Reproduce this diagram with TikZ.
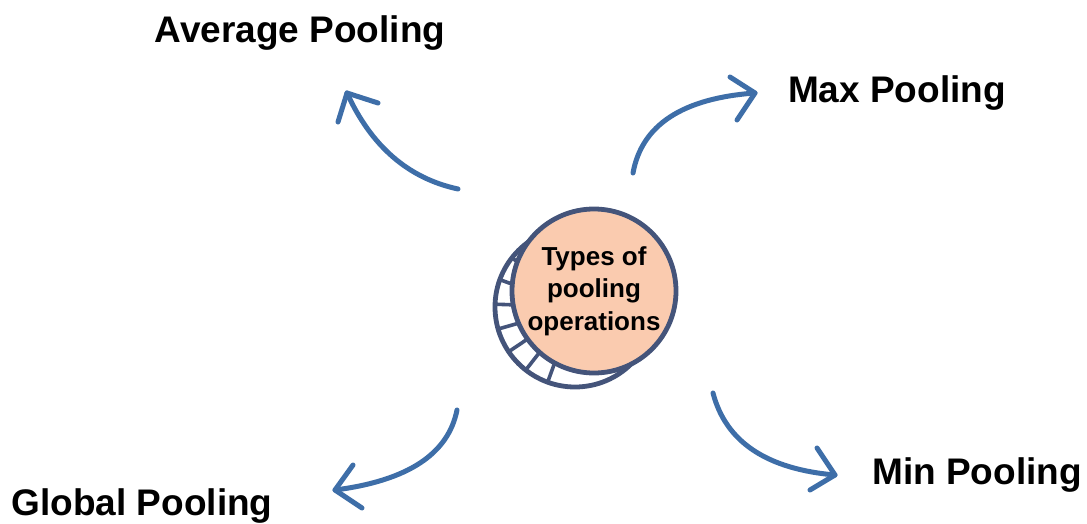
\documentclass[tikz,border=0pt]{standalone}
\usepackage{fontspec}
\setmainfont{Liberation Sans}
\begin{document}
\begin{tikzpicture}[x=1pt,y=-1pt,
  label/.style={font=\bfseries\fontsize{37}{40}\selectfont, text=black, inner sep=0pt},
  curvearrow/.style={draw=arrowblue, line width=5pt, line cap=round, line join=round},
  coinedge/.style={draw=coinblue, line width=4.8pt}]
\definecolor{arrowblue}{RGB}{62,110,168}
\definecolor{coinblue}{RGB}{68,84,122}
\definecolor{peach}{RGB}{250,203,175}
\useasboundingbox (0,0) rectangle (1087,524);

% coin: back face with ribbed rim, front face on top
\fill[white] (575,307) circle (80);
\begin{scope}
  \clip (575,307) circle (80);
  \foreach \a in {110,128,...,320}
    \draw[coinblue, line width=3.6pt] (575,307) -- ++(\a:95);
\end{scope}
\draw[coinedge] (575,307) circle (80);
\node[circle, coinedge, fill=peach, minimum size=164pt, inner sep=0pt,
      align=center, font=\bfseries\fontsize{26}{32.5}\selectfont] (center) at (594,291)
  {Types of\\pooling\\operations};

% labels
\node[label] (avg) at (300,33) {Average Pooling};
\node[label] (max) at (897,93) {Max Pooling};
\node[label] (min) at (977,475) {Min Pooling};
\node[label] (glob) at (142,506) {Global Pooling};

% arrow ends
\coordinate (a0) at (458,189); \coordinate (a1) at (347,93);
\coordinate (m0) at (633,173); \coordinate (m1) at (755,93);
\coordinate (g0) at (457,410); \coordinate (g1) at (335,490);
\coordinate (n0) at (713,393); \coordinate (n1) at (835,475);

% curved arrows
\draw[curvearrow] (a0) .. controls (408.3,178.3) and (371.3,146.3) .. (a1);
\draw[curvearrow] (378,103) -- (a1) -- (338,122);
\draw[curvearrow] (m0) .. controls (641.7,125) and (682.3,98.3) .. (m1);
\draw[curvearrow] (730,77) -- (m1) -- (737,120);
\draw[curvearrow] (g0) .. controls (448.3,454) and (407.7,480.7) .. (g1);
\draw[curvearrow] (353,465) -- (g1) -- (362,508);
\draw[curvearrow] (n0) .. controls (725.7,441.7) and (766.3,469) .. (n1);
\draw[curvearrow] (817,448) -- (n1) -- (810,490);
\end{tikzpicture}
\end{document}
